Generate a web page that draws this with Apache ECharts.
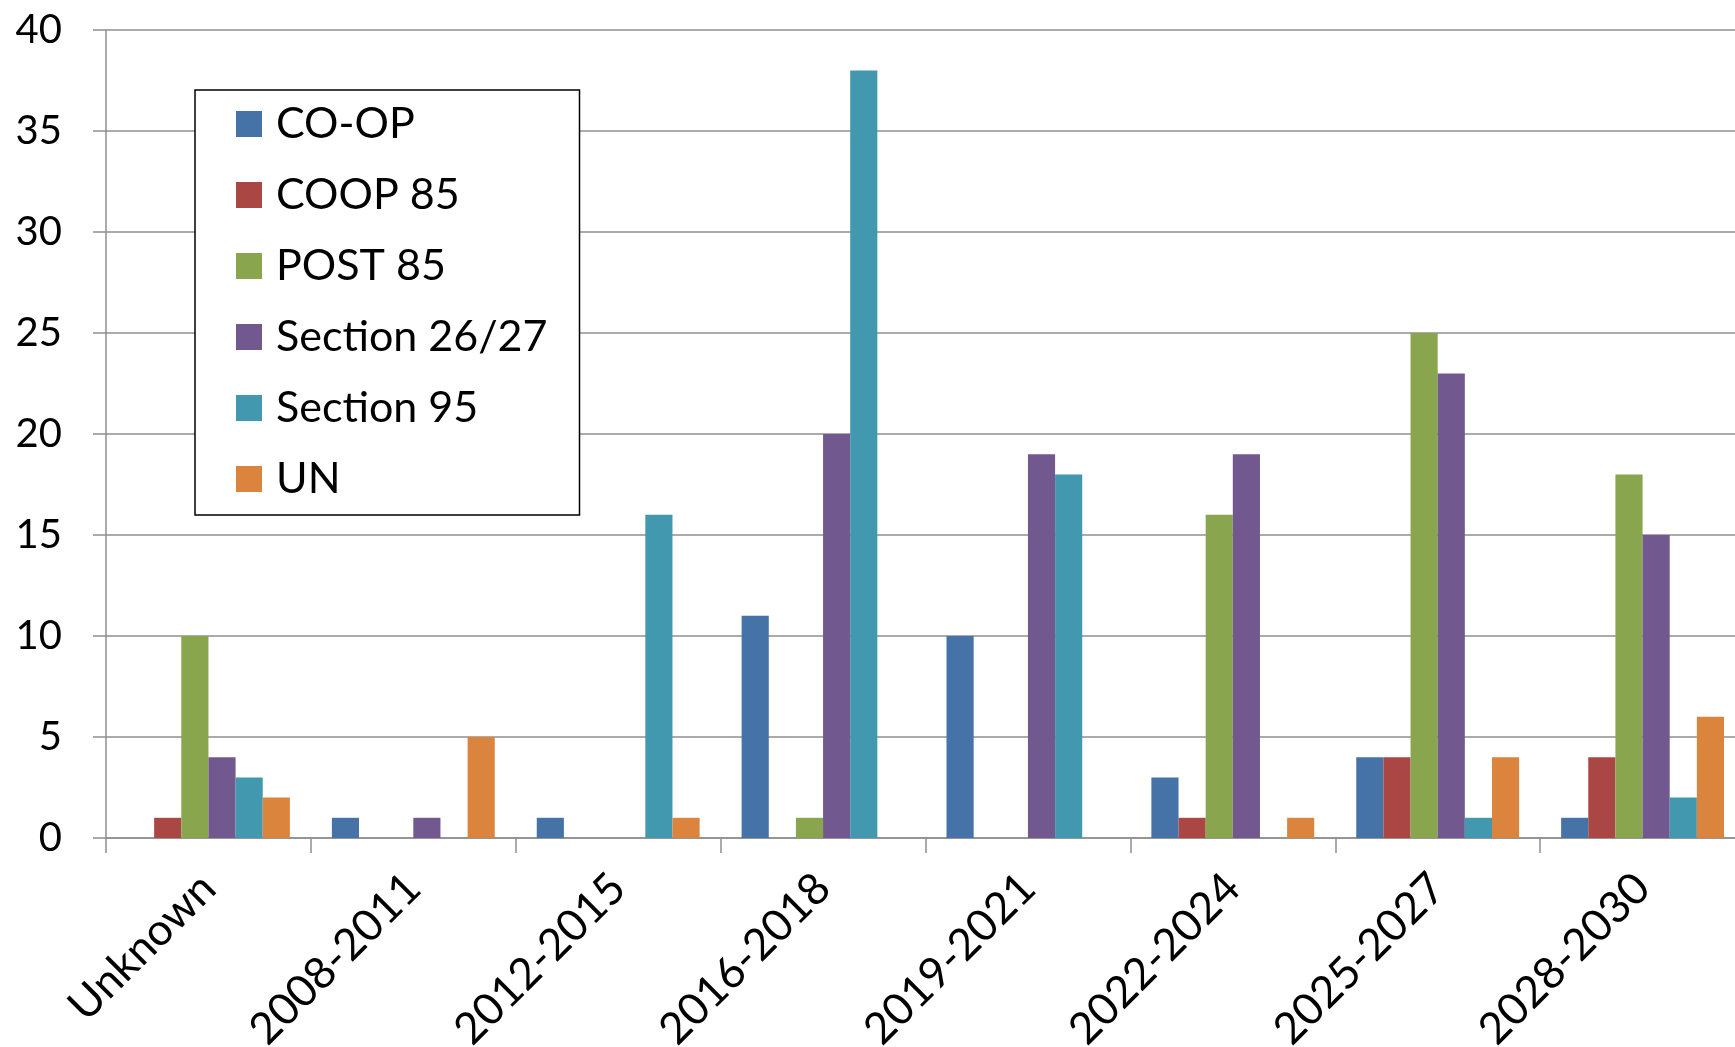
<!DOCTYPE html>
<html>
<head>
<meta charset="utf-8">
<script src="https://cdn.jsdelivr.net/npm/echarts@6/dist/echarts.min.js"></script>
<style>
  html, body { margin: 0; padding: 0; background: #ffffff; }
  #chart { width: 1735px; height: 1047px; }
</style>
</head>
<body>
<div id="chart"></div>
<script>
// Period groups along the x axis
const categories = ['Unknown', '2008-2011', '2012-2015', '2016-2018', '2019-2021', '2022-2024', '2025-2027', '2028-2030'];

// Counts per period for each series
const coOp        = [0, 1, 1, 11, 10, 3, 4, 1];
const coop85      = [1, 0, 0, 0, 0, 1, 4, 4];
const post85      = [10, 0, 0, 1, 0, 16, 25, 18];
const section2627 = [4, 1, 0, 20, 19, 19, 23, 15];
const section95   = [3, 0, 16, 38, 18, 0, 1, 2];
const un          = [2, 5, 1, 0, 0, 1, 4, 6];

const seriesNames = ['CO-OP', 'COOP 85', 'POST 85', 'Section 26/27', 'Section 95', 'UN'];
const seriesValues = [coOp, coop85, post85, section2627, section95, un];
const seriesColors = ['#4572A7', '#AA4643', '#89A54E', '#71588F', '#4198AF', '#DB843D'];

const FONT = 'Lato';
const GRID_COLOR = '#8f8f8f';

const chart = echarts.init(document.getElementById('chart'), null, { renderer: 'canvas' });

chart.setOption({
  animation: false,
  backgroundColor: '#ffffff',
  color: seriesColors,
  grid: { left: 106, right: -10, top: 30, bottom: 209, containLabel: false, outerBoundsMode: 'none' },
  legend: {
    orient: 'vertical',
    left: 195,
    top: 90,
    data: seriesNames,
    icon: 'rect',
    itemWidth: 26,
    itemHeight: 26,
    itemGap: 27,
    padding: [12, 32, 14, 41],
    borderColor: '#000000',
    borderWidth: 1.5,
    backgroundColor: '#ffffff',
    textStyle: { fontFamily: FONT, fontSize: 43, lineHeight: 44, color: '#000000', padding: [0, 0, 0, 9] }
  },
  xAxis: {
    type: 'category',
    data: categories,
    boundaryGap: true,
    axisLine: { lineStyle: { color: GRID_COLOR, width: 1.5 } },
    axisTick: { show: true, length: 15, alignWithLabel: false, lineStyle: { color: GRID_COLOR, width: 1.5 } },
    axisLabel: {
      rotate: 45,
      margin: 43,
      interval: 0,
      fontFamily: FONT,
      fontSize: 44,
      color: '#000000'
    },
    splitLine: { show: false }
  },
  yAxis: {
    type: 'value',
    min: 0,
    max: 40,
    interval: 5,
    axisLine: { show: true, lineStyle: { color: GRID_COLOR, width: 1.5 } },
    axisTick: { show: true, length: 13, lineStyle: { color: GRID_COLOR, width: 1.5 } },
    axisLabel: { margin: 44, fontFamily: FONT, fontSize: 40, color: '#000000' },
    splitLine: { show: true, lineStyle: { color: GRID_COLOR, width: 1.5 } }
  },
  series: seriesNames.map((name, i) => ({
    name: name,
    type: 'bar',
    data: seriesValues[i],
    barGap: '0%',
    barCategoryGap: '20.5%',
    itemStyle: { color: seriesColors[i] }
  }))
});
</script>
</body>
</html>
